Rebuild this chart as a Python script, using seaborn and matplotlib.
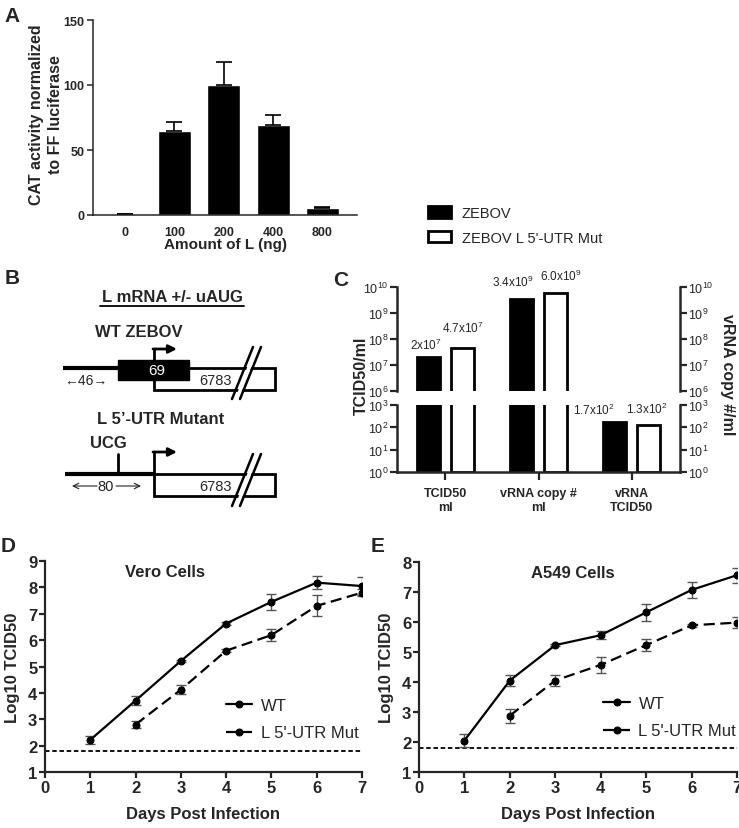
import numpy as np
import pandas as pd
import matplotlib
matplotlib.use("Agg")
import matplotlib.pyplot as plt
import seaborn as sns
from matplotlib.patches import Rectangle, Polygon, Patch

sns.set_style("ticks")
plt.rcParams['font.family'] = ['Liberation Sans', 'DejaVu Sans']
plt.rcParams['mathtext.fontset'] = 'custom'
plt.rcParams['mathtext.rm'] = 'Liberation Sans'
plt.rcParams['mathtext.bf'] = 'Liberation Sans:bold'
plt.rcParams['mathtext.it'] = 'Liberation Sans:italic'

# ---- data ----
# panel A
a_amount = ["0", "100", "200", "400", "800"]
a_cat = [0.5, 64.6, 100.2, 69.2, 5.4]
a_err = [0, 7.2, 17.7, 7.7, 0.8]

# panel C
c_groups = ["TCID50\nml", "vRNA copy #\nml", "vRNA\nTCID50"]
c_zebov = [2e7, 3.4e9, 1.7e2]
c_mut = [4.7e7, 6.0e9, 1.3e2]
c_zebov_lbl = ["2x10$^7$", "3.4x10$^9$", "1.7x10$^2$"]
c_mut_lbl = ["4.7x10$^7$", "6.0x10$^9$", "1.3x10$^2$"]
strains = ["ZEBOV", "ZEBOV L 5'-UTR Mut"]

# panel D (Vero)
days = [1, 2, 3, 4, 5, 6, 7]
days_mut = [2, 3, 4, 5, 6, 7]
d_wt = [2.22, 3.71, 5.21, 6.63, 7.45, 8.18, 8.05]
d_wt_err = [0.16, 0.18, 0.05, 0.05, 0.31, 0.24, 0.35]
d_mut = [2.80, 4.12, 5.60, 6.19, 7.30, 7.80]
d_mut_err = [0.12, 0.17, 0.05, 0.22, 0.40, 0.12]

# panel E (A549)
e_wt = [2.05, 4.05, 5.23, 5.56, 6.32, 7.07, 7.56]
e_wt_err = [0.23, 0.17, 0.04, 0.14, 0.28, 0.28, 0.25]
e_mut = [2.88, 4.05, 4.57, 5.23, 5.89, 5.98]
e_mut_err = [0.23, 0.17, 0.26, 0.20, 0.04, 0.18]

limit = 1.8

W, H = 739, 829
fig = plt.figure(figsize=(W / 100, H / 100), dpi=100)


def ax_px(x0, y0, x1, y1):
    return fig.add_axes([x0 / W, 1 - y1 / H, (x1 - x0) / W, (y1 - y0) / H])


def letter(x, y, s):
    fig.text(x / W, 1 - y / H, s, ha='center', va='center', fontsize=15, weight='bold')


# ---------- panel A ----------
axA = ax_px(93, 21, 357, 216)
sns.barplot(x=a_amount, y=a_cat, color='black', width=0.67, errorbar=None, ax=axA,
            saturation=1)
axA.errorbar(range(len(a_cat)), a_cat, yerr=[np.zeros(len(a_err)), a_err], fmt='none',
             ecolor='black', elinewidth=1.2, capsize=6, capthick=1.2)
axA.set_xlim(-0.65, 4.7)
axA.set_ylim(0, 150)
axA.set_yticks([0, 50, 100, 150])
sns.despine(ax=axA)
for s in ['left', 'bottom']:
    axA.spines[s].set_linewidth(1.1)
axA.tick_params(axis='x', length=0, pad=8)
axA.tick_params(axis='y', length=4, width=1.1, pad=2)
for t in axA.get_xticklabels() + axA.get_yticklabels():
    t.set_fontweight('bold')
    t.set_fontsize(9)
axA.set_xlabel("Amount of L (ng)", fontsize=11, weight='bold', labelpad=-1)
axA.set_ylabel("CAT activity normalized\nto FF luciferase", fontsize=11.5, weight='bold',
               linespacing=1.3)
axA.yaxis.set_label_coords(-0.115, 0.52)
letter(12, 17, "A")

# ---------- legend (C) ----------
handles = [Patch(facecolor='black', edgecolor='black', lw=2),
           Patch(facecolor='white', edgecolor='black', lw=2)]
fig.legend(handles, strains, loc='upper left', bbox_to_anchor=(428 / W, 1 - 207 / H),
           frameon=False, fontsize=10.5, handlelength=1.6, handleheight=0.8,
           handletextpad=0.7, labelspacing=0.75, borderpad=0, borderaxespad=0)

# ---------- panel B (diagram) ----------
axB = ax_px(0, 280, 300, 530)
axB.set_xlim(0, 300)
axB.set_ylim(530, 280)
axB.axis('off')
axB.text(172, 298, "L mRNA +/- uAUG", ha='center', va='center', fontsize=12, weight='bold')
axB.plot([100, 244], [307, 307], color='black', lw=1.3)
axB.text(139, 333, "WT ZEBOV", ha='center', va='center', fontsize=12, weight='bold')
axB.plot([63, 118], [369, 369], color='black', lw=3, solid_capstyle='butt')
axB.add_patch(Rectangle((154, 369), 121, 22, facecolor='white', edgecolor='black', lw=2, zorder=2))
axB.add_patch(Rectangle((118, 361), 71, 20, facecolor='black', edgecolor='black', lw=1, zorder=3))
axB.text(157, 371, "69", color='white', ha='center', va='center', fontsize=11, zorder=4)
axB.text(215, 381, "6783", ha='center', va='center', fontsize=10.5, zorder=4)
axB.text(86, 381, "\u219046\u2192", ha='center', va='center', fontsize=10, color='#222222')
axB.plot([154, 154], [361, 350], color='black', lw=2, zorder=4)
axB.annotate('', xy=(177, 350), xytext=(153, 350),
             arrowprops=dict(arrowstyle='-|>', lw=2, color='black', mutation_scale=12,
                             shrinkA=0, shrinkB=0), zorder=4)


def double_slash(yb, yt):
    axB.add_patch(Polygon([(235, yb), (255, yt), (259, yt), (239, yb)], closed=True,
                          facecolor='white', edgecolor='none', zorder=5))
    axB.plot([232, 253], [yb, yt], color='black', lw=1.8, zorder=6)
    axB.plot([240, 261], [yb, yt], color='black', lw=1.8, zorder=6)


double_slash(400, 348)

axB.text(161, 420, "L 5\u2019-UTR Mutant", ha='center', va='center', fontsize=12, weight='bold')
axB.text(108, 444, "UCG", ha='center', va='center', fontsize=12, weight='bold')
axB.plot([118, 118], [455, 475], color='black', lw=2)
axB.plot([65, 154], [475, 475], color='black', lw=3, solid_capstyle='butt')
axB.add_patch(Rectangle((154, 475), 121, 22, facecolor='white', edgecolor='black', lw=2, zorder=2))
axB.text(215, 487, "6783", ha='center', va='center', fontsize=10.5, zorder=4)
axB.plot([154, 154], [475, 453], color='black', lw=2, zorder=4)
axB.annotate('', xy=(177, 453), xytext=(153, 453),
             arrowprops=dict(arrowstyle='-|>', lw=2, color='black', mutation_scale=12,
                             shrinkA=0, shrinkB=0), zorder=4)
axB.text(106, 487, "80", ha='center', va='center', fontsize=10.5, color='#222222')
axB.annotate('', xy=(72, 487), xytext=(97, 487),
             arrowprops=dict(arrowstyle='->', lw=0.8, color='#222222', shrinkA=0, shrinkB=0))
axB.annotate('', xy=(141, 487), xytext=(116, 487),
             arrowprops=dict(arrowstyle='->', lw=0.8, color='#222222', shrinkA=0, shrinkB=0))
double_slash(507, 455)
letter(12, 279, "B")

# ---------- panel C (broken log axis, drawn in log10 units) ----------
df_c = pd.DataFrame({
    'group': c_groups * 2,
    'strain': [strains[0]] * 3 + [strains[1]] * 3,
    'value': c_zebov + c_mut,
})
df_c['logv'] = np.log10(df_c['value'])

axCu = ax_px(397, 288, 680, 392)
axCl = ax_px(397, 406, 680, 473)
for ax, lims in [(axCu, (6, 10)), (axCl, (0, 3))]:
    sns.barplot(data=df_c, x='group', y='logv', hue='strain', palette=['black', 'white'],
                edgecolor='black', linewidth=2, width=0.73, gap=0.3,
                errorbar=None, legend=False, saturation=1, ax=ax)
    ax.set_ylim(*lims)
    ax.set_xlim(-0.52, 2.52)
    ticks = list(range(lims[0], lims[1] + 1))
    ax.set_yticks(ticks)
    ax.set_yticklabels([f"10$^{{{t}}}$" for t in ticks])
    ax.tick_params(axis='y', left=True, right=True, labelleft=True, labelright=True,
                   length=5, width=1.6, labelsize=9, pad=1)
    ax.spines['top'].set_visible(False)
    for s in ['left', 'right', 'bottom']:
        ax.spines[s].set_linewidth(1.8)
    ax.set_xlabel('')
    ax.set_ylabel('')
axCu.spines['bottom'].set_visible(False)
axCu.tick_params(axis='x', bottom=False, labelbottom=False)
axCl.tick_params(axis='x', length=6, width=1.6, pad=5)
for t in axCl.get_xticklabels():
    t.set_fontweight('bold')
    t.set_fontsize(9)
    t.set_linespacing(1.2)

# value labels
lbl_dx = [[-2, -6, -15], [0, 4, -1]]
lbl_dy = [[4, 7, 4], [9, 7, 6]]
for j, (vals, lbls) in enumerate([(c_zebov, c_zebov_lbl), (c_mut, c_mut_lbl)]):
    for i, (v, s) in enumerate(zip(vals, lbls)):
        ax = axCu if v >= 1e6 else axCl
        xc = i + (j - 0.5) * 0.365
        ax.annotate(s, (xc, np.log10(v)), xytext=(lbl_dx[j][i], lbl_dy[j][i]),
                    textcoords='offset points', ha='center', va='bottom', fontsize=8.5)

fig.text(361 / W, 1 - 376 / H, "TCID50/ml", rotation=90, ha='center', va='center',
         fontsize=11.5, weight='bold')
fig.text(727 / W, 1 - 375 / H, "vRNA copy #/ml", rotation=-90, ha='center', va='center',
         fontsize=11.5, weight='bold')
letter(341, 280, "C")


# ---------- panels D & E ----------
def growth(ax, wt, wt_err, mut, mut_err, ymax, title, title_x):
    ax.axhline(limit, color='black', lw=1.3, ls=(0, (2.5, 1.5)), zorder=1)
    ax.errorbar(days, wt, yerr=wt_err, fmt='none', ecolor='#555555', elinewidth=1,
                capsize=3.5, capthick=1, zorder=2)
    ax.errorbar(days_mut, mut, yerr=mut_err, fmt='none', ecolor='#555555', elinewidth=1,
                capsize=3.5, capthick=1, zorder=2)
    sns.lineplot(x=days, y=wt, color='black', lw=1.6, marker='o', markersize=5,
                 markeredgecolor='black', label='WT', ax=ax, zorder=3)
    sns.lineplot(x=days_mut, y=mut, color='black', lw=1.6, marker='o', markersize=5,
                 markeredgecolor='black', linestyle=(0, (5, 2.5)), label="L 5'-UTR Mut",
                 ax=ax, zorder=3)
    ax.set_xlim(0, 7)
    ax.set_ylim(1, ymax)
    ax.set_xticks(range(8))
    ax.set_yticks(range(1, ymax + 1))
    sns.despine(ax=ax)
    for s in ['left', 'bottom']:
        ax.spines[s].set_linewidth(1.6)
    ax.tick_params(length=4, width=1.6, labelsize=12, pad=1.5)
    for t in ax.get_xticklabels() + ax.get_yticklabels():
        t.set_fontweight('bold')
    ax.set_xlabel("Days Post Infection", fontsize=12, weight='bold', labelpad=8)
    ax.set_ylabel("Log10 TCID50", fontsize=12, weight='bold')
    ax.yaxis.set_label_coords(-0.08, 0.5)
    ax.text(title_x, 0.95, title, transform=ax.transAxes, ha='center', va='center',
            fontsize=12, weight='bold')
    ax.legend(loc='lower left', bbox_to_anchor=(0.57, 0.15), frameon=False, fontsize=12,
              handlelength=1.6, handletextpad=0.5, labelspacing=0.75, borderpad=0,
              borderaxespad=0)


axD = ax_px(45, 562, 362, 773)
growth(axD, d_wt, d_wt_err, d_mut, d_mut_err, 9, "Vero Cells", 0.38)
letter(8, 547, "D")

axE = ax_px(419, 563, 737, 773)
growth(axE, e_wt, e_wt_err, e_mut, e_mut_err, 8, "A549 Cells", 0.484)
axE.legend_.set_bbox_to_anchor((0.58, 0.16), transform=axE.transAxes)
letter(378, 547, "E")

fig.savefig("out.png", dpi=100)
